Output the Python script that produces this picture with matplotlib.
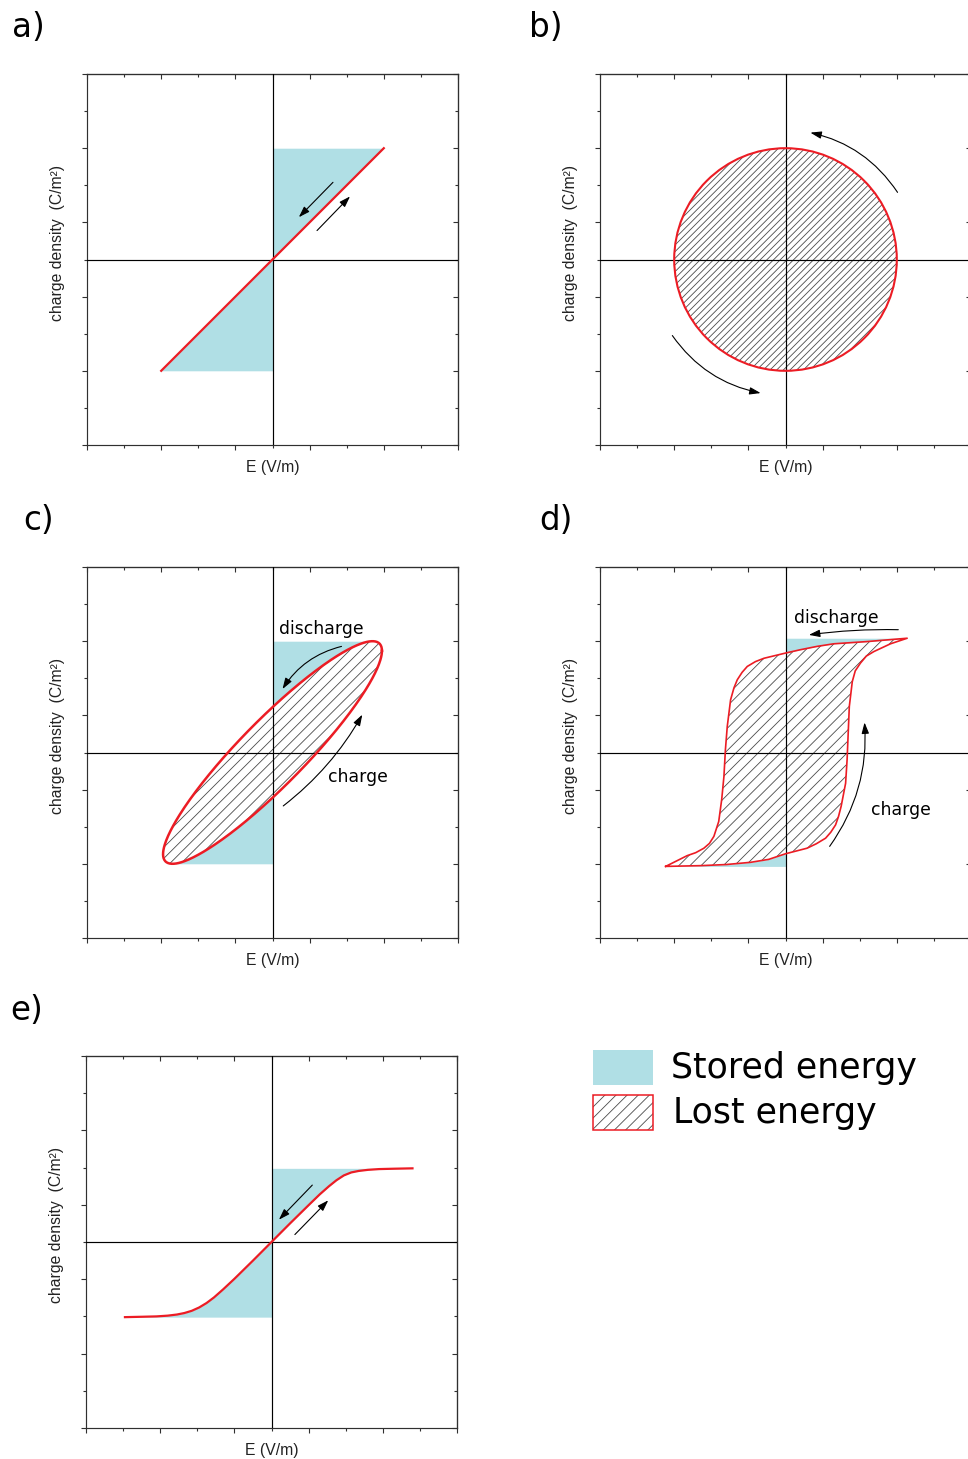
import numpy as np
import matplotlib.pyplot as plt
from matplotlib.patches import Circle, Rectangle

# figure size in pixels, drawn at 100 dpi
W, H, DPI = 968, 1459, 100

RED = '#ec1c24'
CYAN = '#b0dfe5'
HATCH_GREY = '#4a4a4a'
AXIS_GREY = '#303030'

plt.rcParams['hatch.linewidth'] = 0.6
plt.rcParams['font.family'] = 'DejaVu Sans'

# tick positions shared by every panel (no tick labels)
major_ticks = [-5, -3, -1, 1, 3, 5]
minor_ticks = [-4, -2, 0, 2, 4]

# a) linear dielectric
lin_E = [-3.0, 3.0]
lin_D = [-3.0, 3.0]

# b) circular loss loop
circle_radius = 3.0

# c) lossy loop: E = E0 cos t, D = D0 cos(t - delta)
ell_E0 = 2.95
ell_D0 = 3.0
ell_delta_deg = 24

# d) ferroelectric loop
fe_charge_E = [-3.23, -2.29, -1.60, -0.94, -0.45, 0.0, 0.58, 0.83, 1.08, 1.22, 1.35, 1.43,
               1.50, 1.62, 1.66, 1.69, 1.72, 1.80, 1.88, 2.02, 2.18, 2.38, 2.83, 3.28]
fe_charge_D = [-3.07, -3.05, -3.02, -2.96, -2.88, -2.73, -2.58, -2.46, -2.31, -2.15, -1.95, -1.72,
               -1.45, -0.83, -0.20, 0.52, 1.24, 1.91, 2.20, 2.41, 2.60, 2.72, 2.93, 3.08]
fe_discharge_E = [3.28, 2.80, 2.20, 1.30, 0.85, 0.40, 0.0, -0.58, -0.81, -1.03, -1.17, -1.30,
                  -1.39, -1.48, -1.57, -1.62, -1.66, -1.72, -1.80, -1.93, -2.05, -2.20, -2.42,
                  -2.65, -3.23]
fe_discharge_D = [3.08, 3.04, 2.99, 2.93, 2.86, 2.77, 2.68, 2.54, 2.45, 2.32, 2.16, 1.96,
                  1.74, 1.42, 0.70, 0.07, -0.65, -1.27, -1.86, -2.26, -2.45, -2.58, -2.70,
                  -2.78, -3.07]

# e) saturating curve
sat_E = [-3.95, -3.5, -3.1, -2.8, -2.55, -2.35, -2.15, -1.95, -1.75, -1.55, -1.3, -1.0, -0.5,
         0.0, 0.5, 1.0, 1.3, 1.55, 1.75, 1.95, 2.15, 2.35, 2.6, 2.9, 3.3, 3.8]
sat_D = [-2.02, -2.01, -2.0, -1.98, -1.95, -1.91, -1.85, -1.76, -1.64, -1.49, -1.27, -0.99, -0.5,
         0.0, 0.5, 0.99, 1.28, 1.50, 1.66, 1.79, 1.87, 1.91, 1.94, 1.96, 1.97, 1.98]

# direction arrows: (start, end, curvature)
arrows_a = [((1.63, 2.08), (0.71, 1.14), 0.0), ((1.20, 0.78), (2.09, 1.70), 0.0)]
arrows_b = [((3.02, 1.81), (0.67, 3.42), 0.2), ((-3.05, -2.05), (-0.67, -3.60), 0.2)]
arrows_c = [((1.86, 2.86), (0.27, 1.71), 0.2), ((0.29, -1.44), (2.42, 1.02), 0.1)]
arrows_d = [((3.04, 3.31), (0.63, 3.17), 0.04), ((1.19, -2.53), (2.13, 0.81), 0.18)]
arrows_e = [((1.10, 1.53), (0.20, 0.60), 0.0), ((0.63, 0.20), (1.53, 1.12), 0.0)]

fig = plt.figure(figsize=(W / DPI, H / DPI), dpi=DPI)

MAJ_LEN, MIN_LEN = 3.6, 2.2


def add_panel(left, top, right, bottom):
    ax = fig.add_axes([left / W, 1 - bottom / H, (right - left) / W, (bottom - top) / H])
    ax.set_xlim(-5, 5)
    ax.set_ylim(-5, 5)
    ax.set_xticks(major_ticks)
    ax.set_xticks(minor_ticks, minor=True)
    ax.set_yticks(major_ticks)
    ax.set_yticks(minor_ticks, minor=True)
    ax.tick_params(which='both', direction='out', labelbottom=False, labelleft=False,
                   width=0.8, color=AXIS_GREY)
    ax.tick_params(which='major', length=MAJ_LEN)
    ax.tick_params(which='minor', length=MIN_LEN)
    for sp in ax.spines.values():
        sp.set_linewidth(0.85)
        sp.set_color(AXIS_GREY)
    # mirrored ticks pointing inwards on top and right
    top_ax = ax.secondary_xaxis('top')
    top_ax.set_xticks(major_ticks)
    top_ax.set_xticks(minor_ticks, minor=True)
    top_ax.tick_params(which='both', direction='in', labeltop=False, labelbottom=False,
                       width=0.8, color=AXIS_GREY)
    right_ax = ax.secondary_yaxis('right')
    right_ax.set_yticks(major_ticks)
    right_ax.set_yticks(minor_ticks, minor=True)
    right_ax.tick_params(which='both', direction='in', labelright=False, labelleft=False,
                         width=0.8, color=AXIS_GREY)
    for s in (top_ax, right_ax):
        s.tick_params(which='major', length=MAJ_LEN)
        s.tick_params(which='minor', length=MIN_LEN)
        for sp in s.spines.values():
            sp.set_linewidth(0.85)
            sp.set_color(AXIS_GREY)
    ax.axhline(0, color='black', lw=0.85, zorder=3)
    ax.axvline(0, color='black', lw=0.85, zorder=3)
    ax.text(0.5, -0.06, 'E (V/m)', transform=ax.transAxes, ha='center', va='center',
            fontsize=11.3, family='Liberation Sans', color='#222222')
    ax.text(-0.08, 0.545, 'charge density  (C/m²)', transform=ax.transAxes, rotation=90,
            ha='center', va='center', fontsize=11.3, family='Liberation Sans', color='#222222')
    return ax


def draw_arrows(ax, arrows):
    for start, end, rad in arrows:
        ax.annotate('', xy=end, xytext=start,
                    arrowprops=dict(arrowstyle='-|>,head_length=0.6,head_width=0.2',
                                    color='black', lw=0.8, mutation_scale=11,
                                    shrinkA=0, shrinkB=0,
                                    connectionstyle=f'arc3,rad={rad}'),
                    zorder=6)


def panel_label(x, baseline, label):
    fig.text(x / W, 1 - baseline / H, label, ha='left', va='baseline', fontsize=23.5)


# ---- a) ----
ax = add_panel(87, 74, 458, 445)
ax.fill_betweenx([0, lin_D[1]], [0, 0], [0, lin_E[1]], color=CYAN, lw=0, zorder=1)
ax.fill_betweenx([lin_D[0], 0], [lin_E[0], 0], [0, 0], color=CYAN, lw=0, zorder=1)
ax.plot(lin_E, lin_D, color=RED, lw=1.6, zorder=4)
draw_arrows(ax, arrows_a)
panel_label(12, 37, 'a)')

# ---- b) ----
ax = add_panel(600, 74, 971, 445)
ax.add_patch(Circle((0, 0), circle_radius, facecolor='none', edgecolor=HATCH_GREY,
                    hatch='/////', lw=0, zorder=2))
ax.add_patch(Circle((0, 0), circle_radius, facecolor='none', edgecolor=RED, lw=1.5, zorder=4))
draw_arrows(ax, arrows_b)
panel_label(529, 37, 'b)')

# ---- c) ----
ax = add_panel(87, 567, 458, 938)
delta = np.deg2rad(ell_delta_deg)
t = np.linspace(0, 2 * np.pi, 400)
ell_E = ell_E0 * np.cos(t)
ell_D = ell_D0 * np.cos(t - delta)
# stored energy: between E = 0 and the discharge part of the loop
t_up = np.linspace(delta, np.pi / 2, 100)
ax.fill_betweenx(ell_D0 * np.cos(t_up - delta), 0, ell_E0 * np.cos(t_up), color=CYAN, lw=0, zorder=1)
t_dn = np.linspace(np.pi + delta, 1.5 * np.pi, 100)
ax.fill_betweenx(ell_D0 * np.cos(t_dn - delta), ell_E0 * np.cos(t_dn), 0, color=CYAN, lw=0, zorder=1)
ax.fill(ell_E, ell_D, facecolor='none', edgecolor=HATCH_GREY, hatch='///', lw=0, zorder=2)
ax.plot(ell_E, ell_D, color=RED, lw=1.8, zorder=4)
ax.text(0.18, 3.2, 'discharge', fontsize=12.4, ha='left', va='baseline', zorder=6)
ax.text(1.5, -0.8, 'charge', fontsize=12.4, ha='left', va='baseline', zorder=6)
draw_arrows(ax, arrows_c)
panel_label(23, 530, 'c)')

# ---- d) ----
ax = add_panel(600, 567, 971, 938)
top_idx = [i for i, e in enumerate(fe_discharge_E) if e >= 0]
ax.fill_betweenx([fe_discharge_D[i] for i in top_idx], 0, [fe_discharge_E[i] for i in top_idx],
                 color=CYAN, lw=0, zorder=1)
bot_idx = [i for i, e in enumerate(fe_charge_E) if e <= 0]
ax.fill_betweenx([fe_charge_D[i] for i in bot_idx], [fe_charge_E[i] for i in bot_idx], 0,
                 color=CYAN, lw=0, zorder=1)
loop_E = fe_charge_E + fe_discharge_E[1:]
loop_D = fe_charge_D + fe_discharge_D[1:]
ax.fill(loop_E, loop_D, facecolor='none', edgecolor=HATCH_GREY, hatch='///', lw=0, zorder=2)
ax.plot(loop_E, loop_D, color=RED, lw=1.2, zorder=4, solid_joinstyle='round')
ax.text(0.22, 3.5, 'discharge', fontsize=12.4, ha='left', va='baseline', zorder=6)
ax.text(2.31, -1.68, 'charge', fontsize=12.4, ha='left', va='baseline', zorder=6)
draw_arrows(ax, arrows_d)
panel_label(539, 530, 'd)')

# ---- e) ----
ax = add_panel(86, 1056, 457, 1428)
pos = [i for i, e in enumerate(sat_E) if e >= 0]
neg = [i for i, e in enumerate(sat_E) if e <= 0]
ax.fill_betweenx([sat_D[i] for i in pos], 0, [sat_E[i] for i in pos], color=CYAN, lw=0, zorder=1)
ax.fill_betweenx([sat_D[i] for i in neg], [sat_E[i] for i in neg], 0, color=CYAN, lw=0, zorder=1)
ax.plot(sat_E, sat_D, color=RED, lw=1.6, zorder=4)
draw_arrows(ax, arrows_e)
panel_label(10, 1020, 'e)')


# ---- legend ----
def fig_rect(x0, y0, x1, y1, **kw):
    r = Rectangle((x0 / W, 1 - y1 / H), (x1 - x0) / W, (y1 - y0) / H,
                  transform=fig.transFigure, **kw)
    fig.add_artist(r)


fig_rect(593, 1050, 653, 1085, facecolor=CYAN, lw=0)
fig_rect(593, 1095, 653, 1130, facecolor='white', edgecolor=HATCH_GREY, hatch='///', lw=0)
fig_rect(593, 1095, 653, 1130, facecolor='none', edgecolor=RED, lw=1.1)
fig.text(671 / W, 1 - 1078 / H, 'Stored energy', fontsize=25, va='baseline')
fig.text(673 / W, 1 - 1123 / H, 'Lost energy', fontsize=25, va='baseline')

fig.savefig('out.png', dpi=DPI)
